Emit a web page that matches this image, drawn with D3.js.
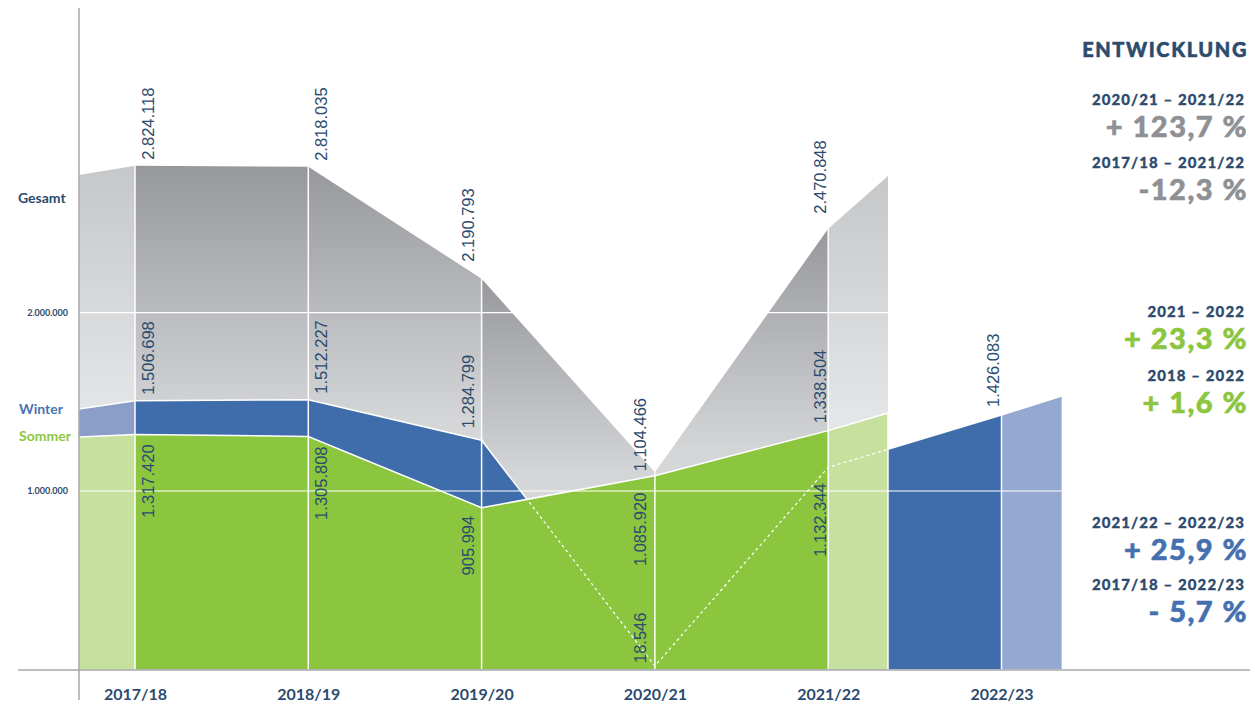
<!DOCTYPE html>
<html>
<head>
<meta charset="utf-8">
<script src="https://cdn.jsdelivr.net/npm/d3@7"></script>
<style>
  body { margin: 0; background: #fff; }
  svg { display: block; font-family: Lato, sans-serif; }
</style>
</head>
<body>
<div id="chart"></div>
<script>
// data
const seasons = ["2017/18", "2018/19", "2019/20", "2020/21", "2021/22", "2022/23"];
const gesamt = [2824118, 2818035, 2190793, 1104466, 2470848];
const winter = [1506698, 1512227, 1284799, 18546, 1132344, 1426083];
const sommer = [1317420, 1305808, 905994, 1085920, 1338504];
// values where the areas are cut off at the left / right edge of the plot
const gesamtEdge = [2772000, 2767000];
const winterEdge = [1460000, 1533000];
const sommerEdge = [1303000, 1437000];
const yTicks = [1000000, 2000000];

const periods = ["2020/21 – 2021/22", "2017/18 – 2021/22", "2021 – 2022", "2018 – 2022",
                 "2021/22 – 2022/23", "2017/18 – 2022/23"];
const changes = ["+ 123,7 %", "-12,3 %", "+ 23,3 %", "+ 1,6 %", "+ 25,9 %", "- 5,7 %"];

// layout
const width = 1255, height = 709;
const leftCut = -0.323, rightCut = 4.345, winterCut = 5.347;
const navy = "#2c4b6e", green = "#8cc63f", lightGreen = "#c6e09e",
      blue = "#3f6caa", lightBlueL = "#8b9ec7", lightBlueR = "#95a8d2";

const de = d3.formatLocale({decimal: ",", thousands: ".", grouping: [3], currency: ["", "€"]});
const fmt = de.format(",d");

const svg = d3.select("#chart").append("svg")
    .attr("width", width)
    .attr("height", height);

const x = d3.scaleLinear().domain([0, 5]).range([135, 1001.5]);
const y = d3.scaleLinear().domain([0, 2000000]).range([669.3, 312.7]);

const defs = svg.append("defs");
const darkGrad = defs.append("linearGradient").attr("id", "grayDark")
    .attr("x1", 0).attr("y1", 0).attr("x2", 0).attr("y2", 1);
darkGrad.append("stop").attr("offset", 0).attr("stop-color", "#97989c");
darkGrad.append("stop").attr("offset", 0.5).attr("stop-color", "#d4d5d7");
darkGrad.append("stop").attr("offset", 1).attr("stop-color", "#e6e7e8");
const lightGrad = defs.append("linearGradient").attr("id", "grayLight")
    .attr("x1", 0).attr("y1", 0).attr("x2", 0).attr("y2", 1);
lightGrad.append("stop").attr("offset", 0).attr("stop-color", "#c6c7c9");
lightGrad.append("stop").attr("offset", 0.5).attr("stop-color", "#e5e6e7");
lightGrad.append("stop").attr("offset", 1).attr("stop-color", "#efeff0");

function points(vals, edge, endIdx) {
    return [{i: leftCut, v: edge[0]}]
        .concat(vals.map((v, i) => ({i, v})))
        .concat([{i: endIdx, v: edge[1]}]);
}
const gPts = points(gesamt, gesamtEdge, rightCut);
const wPts = points(winter, winterEdge, winterCut);
const sPts = points(sommer, sommerEdge, rightCut);

const area = d3.area()
    .x(d => x(d.i))
    .y0(y(0))
    .y1(d => y(d.v));
const line = d3.line()
    .x(d => x(d.i))
    .y(d => y(d.v));

// gesamt: every segment gets its own gradient box
for (let k = 0; k < gPts.length - 1; k++) {
    const light = k === 0 || k === gPts.length - 2;
    svg.append("path")
        .attr("d", area(gPts.slice(k, k + 2)))
        .attr("fill", light ? "url(#grayLight)" : "url(#grayDark)");
}

// winter
svg.append("path").attr("d", area(wPts.slice(0, 2))).attr("fill", lightBlueL);
svg.append("path").attr("d", area(wPts.slice(1, 7))).attr("fill", blue);
svg.append("path").attr("d", area(wPts.slice(6))).attr("fill", lightBlueR);
svg.append("path").attr("d", line(wPts))
    .attr("fill", "none").attr("stroke", "#fff").attr("stroke-width", 1.5);

// sommer
svg.append("path").attr("d", area(sPts.slice(0, 2))).attr("fill", lightGreen);
svg.append("path").attr("d", area(sPts.slice(1, 6))).attr("fill", green);
svg.append("path").attr("d", area(sPts.slice(5))).attr("fill", lightGreen);
svg.append("path").attr("d", line(sPts))
    .attr("fill", "none").attr("stroke", "#fff").attr("stroke-width", 1.5);

// winter line where it runs behind the green area
defs.append("clipPath").attr("id", "sommerClip")
    .append("path").attr("d", area(sPts));
svg.append("path").attr("d", line(wPts))
    .attr("clip-path", "url(#sommerClip)")
    .attr("fill", "none").attr("stroke", "#fff")
    .attr("stroke-width", 1.2).attr("stroke-dasharray", "3,3");

// grid
svg.append("g").selectAll("line").data(yTicks).join("line")
    .attr("x1", x(leftCut)).attr("x2", x(winterCut))
    .attr("y1", d => y(d)).attr("y2", d => y(d))
    .attr("stroke", "#fff").attr("stroke-width", 1.2);

const vTops = gesamt.map((v, i) => ({i, v})).concat([{i: 5, v: winter[5]}, {i: rightCut, v: sommerEdge[1]}]);
svg.append("g").selectAll("line").data(vTops).join("line")
    .attr("x1", d => x(d.i)).attr("x2", d => x(d.i))
    .attr("y1", d => y(d.v)).attr("y2", y(0))
    .attr("stroke", "#fff").attr("stroke-width", 1.5);

// axes lines
svg.append("line").attr("x1", 79).attr("x2", 79).attr("y1", 8).attr("y2", 700)
    .attr("stroke", "#a8a9ad").attr("stroke-width", 1.5);
svg.append("line").attr("x1", 18).attr("x2", 1250).attr("y1", 670).attr("y2", 670)
    .attr("stroke", "#a8a9ad").attr("stroke-width", 1.5);

const yAxis = svg.append("g")
    .attr("transform", `translate(79,0)`)
    .call(d3.axisLeft(y).tickValues(yTicks).tickFormat(fmt).tickSize(0).tickPadding(11));
yAxis.select(".domain").remove();
yAxis.selectAll("text")
    .attr("font-family", "Lato, sans-serif").attr("font-weight", "bold")
    .attr("font-size", 9).attr("fill", navy);

const xAxis = svg.append("g")
    .attr("transform", `translate(0,670)`)
    .call(d3.axisBottom(x).tickValues(d3.range(6)).tickFormat(i => seasons[i]).tickSize(0).tickPadding(19));
xAxis.select(".domain").remove();
xAxis.selectAll("text")
    .attr("font-family", "Lato, sans-serif").attr("font-weight", "bold")
    .attr("font-size", 16).attr("fill", navy);

// value labels (dx from the gridline; gap < 0 above the point, > 0 below)
const gesamtLab = [[18.5, -6], [18.5, -6], [-7.5, -17], [-8.5, -1], [-2.5, -15]];
const winterLab = [[18.5, -6], [18.5, -6], [-7.5, -12], [-8.5, -3], [-2.5, 16], [-2.5, -8]];
const sommerLab = [[18.5, 10], [18.5, 10], [-7.5, 8], [-8.5, 17], [-2.5, -7.5]];

function valueLabels(vals, lab) {
    svg.append("g").selectAll("text").data(vals).join("text")
        .attr("transform", (d, i) => `translate(${x(i) + lab[i][0]},${y(d) + lab[i][1]}) rotate(-90)`)
        .attr("text-anchor", (d, i) => lab[i][1] < 0 ? "start" : "end")
        .attr("font-family", "'Liberation Sans', Arial, sans-serif")
        .attr("font-size", 16.5)
        .attr("fill", navy)
        .text(d => fmt(d));
}
valueLabels(gesamt, gesamtLab);
valueLabels(winter, winterLab);
valueLabels(sommer, sommerLab);

// series names
const names = [["Gesamt", 18, 203, navy], ["Winter", 19, 414, "#4a72b2"], ["Sommer", 19, 441, green]];
svg.append("g").selectAll("text").data(names).join("text")
    .attr("x", d => d[1]).attr("y", d => d[2])
    .attr("font-weight", "bold").attr("font-size", 14)
    .attr("fill", d => d[3])
    .text(d => d[0]);

// entwicklung panel
svg.append("text")
    .attr("x", 1248).attr("y", 57)
    .attr("text-anchor", "end")
    .attr("font-weight", 900).attr("font-size", 20)
    .attr("letter-spacing", 1.6)
    .attr("stroke", navy).attr("stroke-width", 0.5)
    .attr("fill", navy)
    .text("ENTWICKLUNG");

const panelY = [105, 168, 317, 381, 528, 590];
const changeColor = ["#8f9094", "#8f9094", green, green, "#4570b0", "#4570b0"];
const panel = svg.append("g").attr("text-anchor", "end");
panel.selectAll("text.period").data(periods).join("text")
    .attr("class", "period")
    .attr("x", 1245).attr("y", (d, i) => panelY[i])
    .attr("font-weight", 900).attr("font-size", 15)
    .attr("letter-spacing", 1.1)
    .attr("stroke", navy).attr("stroke-width", 0.3)
    .attr("fill", navy)
    .text(d => d);
panel.selectAll("text.change").data(changes).join("text")
    .attr("class", "change")
    .attr("x", 1248).attr("y", (d, i) => panelY[i] + 32)
    .attr("font-weight", 900).attr("font-size", 29)
    .attr("letter-spacing", 1.5)
    .attr("stroke", (d, i) => changeColor[i]).attr("stroke-width", 0.6)
    .attr("fill", (d, i) => changeColor[i])
    .text(d => d);
</script>
</body>
</html>
